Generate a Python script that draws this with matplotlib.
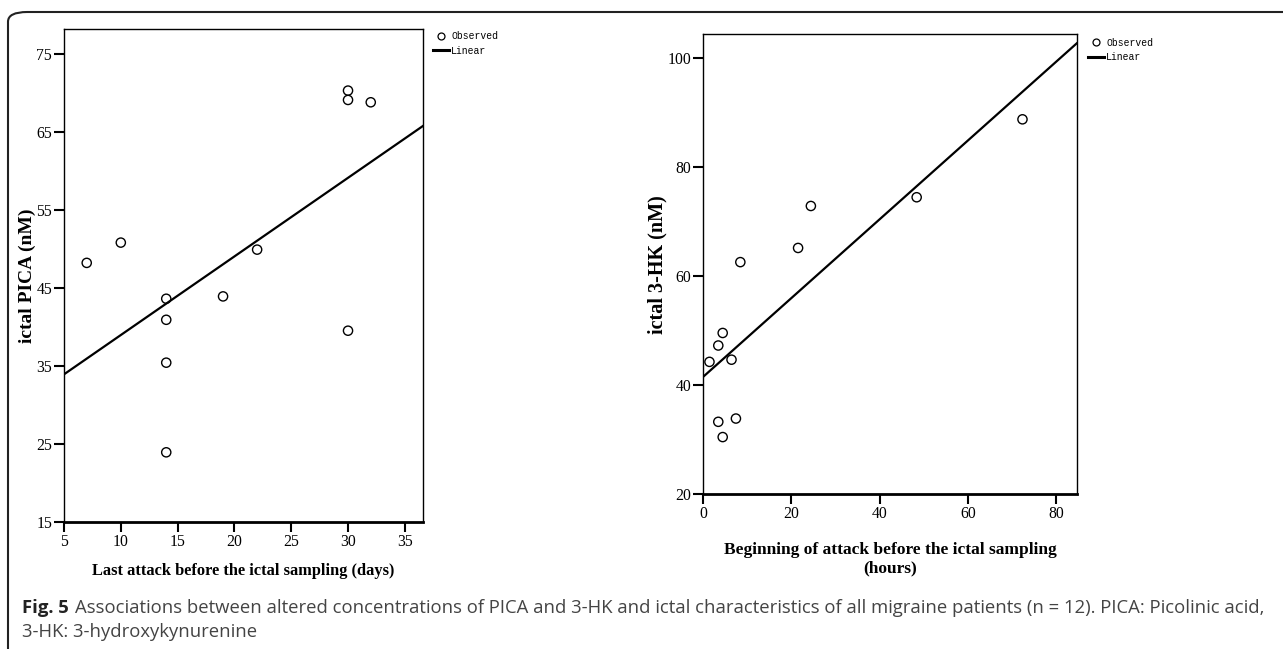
import numpy as np
import matplotlib
matplotlib.use("Agg")
import matplotlib.pyplot as plt
from matplotlib.lines import Line2D
from matplotlib.patches import FancyBboxPatch

# data
days = [7, 10, 14, 14, 14, 14, 19, 22, 30, 30, 30, 32]
pica = [48.2, 50.8, 43.6, 40.9, 35.4, 23.9, 43.9, 49.9, 70.3, 69.1, 39.5, 68.8]

hours = [1.4, 3.4, 4.4, 6.4, 8.4, 21.5, 24.4, 48.4, 72.4, 3.4, 4.4, 7.4]
hk = [44.3, 47.3, 49.6, 44.7, 62.6, 65.2, 72.9, 74.5, 88.8, 33.3, 30.5, 33.9]

left_xticks = [5, 10, 15, 20, 25, 30, 35]
left_yticks = [15, 25, 35, 45, 55, 65, 75]
right_xticks = [0, 20, 40, 60, 80]
right_yticks = [20, 40, 60, 80, 100]

serif = "Liberation Serif"
mono = "Liberation Mono"

fig = plt.figure(figsize=(12.83, 6.49), dpi=100)

# border of the figure panel
frame = FancyBboxPatch((8 / 1283, -0.1), 1.2, 1.1 - 12 / 649,
                       boxstyle="round,pad=0,rounding_size=0.015",
                       transform=fig.transFigure, fill=False,
                       edgecolor="#222222", linewidth=1.5, clip_on=False)
fig.patches.append(frame)


def draw_panel(ax, x, y, xlim, ylim, xticks, yticks, xlabel, ylabel, leg_xy,
               xl_size, yl_size):
    ax.scatter(x, y, s=44, facecolors="none", edgecolors="black", linewidths=1.0,
               zorder=3)
    # least-squares fit line, as in the original
    k, b = np.polyfit(x, y, 1)
    xs = np.array(xlim)
    ax.plot(xs, k * xs + b, color="black", linewidth=1.6, zorder=2)

    ax.set_xlim(xlim)
    ax.set_ylim(ylim)
    ax.set_xticks(xticks)
    ax.set_yticks(yticks)
    ax.tick_params(direction="out", length=7.5, width=1.5, pad=1,
                   labelsize=11.3, colors="black")
    for lab in ax.get_xticklabels() + ax.get_yticklabels():
        lab.set_family(serif)
    for side in ["left", "top", "right"]:
        ax.spines[side].set_linewidth(1.0)
    ax.spines["bottom"].set_linewidth(2.0)

    ax.set_xlabel(xlabel, family=serif, fontweight="bold", fontsize=xl_size,
                  va="center")
    ax.set_ylabel(ylabel, family=serif, fontweight="bold", fontsize=yl_size,
                  va="center")

    handles = [Line2D([], [], marker="o", linestyle="none", markersize=5,
                      markerfacecolor="none", markeredgecolor="black",
                      markeredgewidth=0.9),
               Line2D([], [], color="black", linewidth=2.2)]
    ax.legend(handles, ["Observed", "Linear"], loc="upper left",
              bbox_to_anchor=leg_xy, frameon=False,
              prop={"family": mono, "size": 7}, handlelength=1.7,
              handletextpad=0.2, labelspacing=0.5, borderpad=0,
              borderaxespad=0)


ax1 = fig.add_axes([64 / 1283, 1 - 521.7 / 649, 359 / 1283, 492.7 / 649])
draw_panel(ax1, days, pica, (5, 36.6), (15, 78.2), left_xticks, left_yticks,
           "Last attack before the ictal sampling (days)", "ictal PICA (nM)",
           (1.027, 0.996), 11.8, 14)
ax1.xaxis.set_label_coords(0.5, -0.101)
ax1.yaxis.set_label_coords(-0.101, 0.5)

ax2 = fig.add_axes([703.3 / 1283, 1 - 494.3 / 649, 373.4 / 1283, 460 / 649])
draw_panel(ax2, hours, hk, (0, 84.7), (20, 104.4), right_xticks, right_yticks,
           "Beginning of attack before the ictal sampling\n(hours)",
           "ictal 3-HK (nM)", (1.03, 0.993), 12.5, 14.5)
ax2.xaxis.set_label_coords(0.5, -0.14)
ax2.yaxis.set_label_coords(-0.123, 0.5)

# caption
cap_font = "Open Sans"
cap_size = 13.3
t1 = fig.text(22 / 1283, 1 - 608 / 649, "Fig. 5", family=cap_font,
              fontweight="bold", fontsize=cap_size, color="#222222", va="center")
fig.canvas.draw()
bb = t1.get_window_extent()
fig.text(bb.x1 / 1283 + 6 / 1283, 1 - 608 / 649,
         "Associations between altered concentrations of PICA and 3-HK and ictal "
         "characteristics of all migraine patients (n = 12). PICA: Picolinic acid,",
         family=cap_font, fontsize=cap_size, color="#444444", va="center")
fig.text(22 / 1283, 1 - 632 / 649, "3-HK: 3-hydroxykynurenine",
         family=cap_font, fontsize=cap_size, color="#444444", va="center")

fig.savefig("out.png", dpi=100)
